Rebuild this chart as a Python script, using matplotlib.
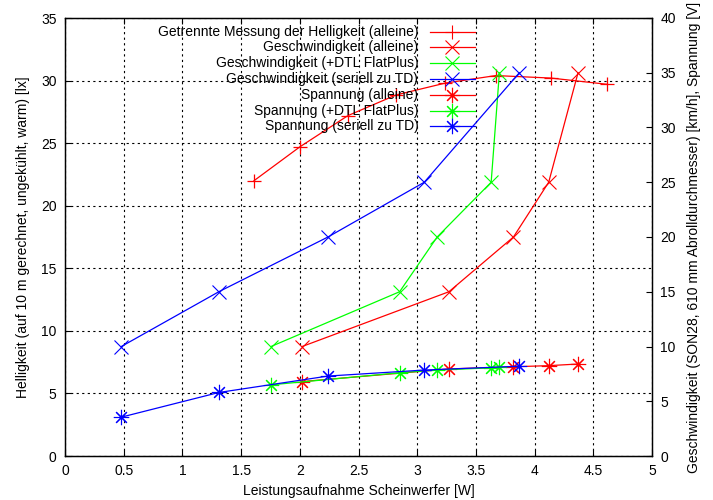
import matplotlib
matplotlib.use('Agg')
import matplotlib.pyplot as plt
from matplotlib.lines import Line2D

plt.rcParams['font.family'] = ['Liberation Sans', 'DejaVu Sans']
plt.rcParams['font.size'] = 10

# Helligkeit (left axis)
hell_x = [1.61, 2.0, 2.41, 2.82, 3.24, 3.67, 4.14, 4.62]
hell_y = [22.0, 24.7, 27.2, 28.85, 29.8, 30.4, 30.2, 29.7]

# Geschwindigkeit / Spannung (right axis), power per measurement
alleine_x = [2.02, 3.27, 3.82, 4.12, 4.37]
dtl_x = [1.755, 2.85, 3.17, 3.63, 3.70]
seriell_x = [0.48, 1.31, 2.24, 3.06, 3.87]

gesch_alleine = [10, 15, 20, 25, 35]
gesch_dtl = [10, 15, 20, 25, 35]
gesch_seriell = [10, 15, 20, 25, 35]

spann_alleine = [6.8, 7.95, 8.15, 8.25, 8.4]
spann_dtl = [6.5, 7.6, 7.85, 8.05, 8.1]
spann_seriell = [3.55, 5.8, 7.3, 7.85, 8.2]

labels = ['Getrennte Messung der Helligkeit (alleine)',
          'Geschwindigkeit (alleine)',
          'Geschwindigkeit (+DTL FlatPlus)',
          'Geschwindigkeit (seriell zu TD)',
          'Spannung (alleine)',
          'Spannung (+DTL FlatPlus)',
          'Spannung (seriell zu TD)']

RED, GREEN, BLUE = '#ff0000', '#00ff00', '#0000ff'
STAR = (8, 2, 0)

fig = plt.figure(figsize=(7.13, 5.0), dpi=100)
ax = fig.add_axes([65 / 713, 44 / 500, 587 / 713, 438 / 500])
ax2 = ax.twinx()

ax.set_xlim(0, 5)
ax.set_ylim(0, 35)
ax2.set_ylim(0, 40)
ax.set_xticks([i * 0.5 for i in range(11)])
ax.set_xticklabels(['0', '0.5', '1', '1.5', '2', '2.5', '3', '3.5', '4', '4.5', '5'])
ax.set_yticks(range(0, 36, 5))
ax2.set_yticks(range(0, 41, 5))

ax.grid(True, color='black', linestyle=(0, (2, 3)), linewidth=0.8)
ax.tick_params(axis='x', direction='in', top=True, length=4, pad=6)
ax.tick_params(axis='y', direction='in', right=False, length=4, pad=6)
ax2.tick_params(axis='y', direction='in', length=4, pad=6)
for a in (ax, ax2):
    for s in a.spines.values():
        s.set_linewidth(0.9)

ax.set_xlabel('Leistungsaufnahme Scheinwerfer [W]', labelpad=4)
ax.set_ylabel('Helligkeit (auf 10 m gerechnet, ungekühlt, warm) [lx]', labelpad=8)
ax2.set_ylabel('Geschwindigkeit (SON28, 610 mm Abrolldurchmesser) [km/h], Spannung [V]', labelpad=8)

lw = 0.9
sizes = {'+': 10, 'x': 10, STAR: 11}
ax.plot(hell_x, hell_y, color=RED, lw=lw, marker='+', ms=sizes['+'], mew=0.9)
series = [
    (alleine_x, gesch_alleine, RED, 'x'),
    (dtl_x, gesch_dtl, GREEN, 'x'),
    (seriell_x, gesch_seriell, BLUE, 'x'),
    (alleine_x, spann_alleine, RED, STAR),
    (dtl_x, spann_dtl, GREEN, STAR),
    (seriell_x, spann_seriell, BLUE, STAR),
]
for xs, ys, c, m in series:
    ax2.plot(xs, ys, color=c, lw=lw, marker=m, ms=sizes[m], mew=0.8)

# gnuplot style key: right-aligned text, sample line on the right
styles = [(RED, '+')] + [(c, m) for _, _, c, m in series]
y0, step = 0.969, 0.0361
for i, (lab, (c, m)) in enumerate(zip(labels, styles)):
    y = y0 - i * step
    ax2.text(0.602, y, lab, transform=ax2.transAxes, ha='right', va='center')
    ax2.add_line(Line2D([0.622, 0.6985], [y, y], transform=ax2.transAxes, color=c, lw=lw))
    ax2.add_line(Line2D([0.660], [y], transform=ax2.transAxes, color=c, marker=m,
                        ms=sizes[m], mew=0.8, linestyle='none'))

fig.savefig('out.png', dpi=100)
